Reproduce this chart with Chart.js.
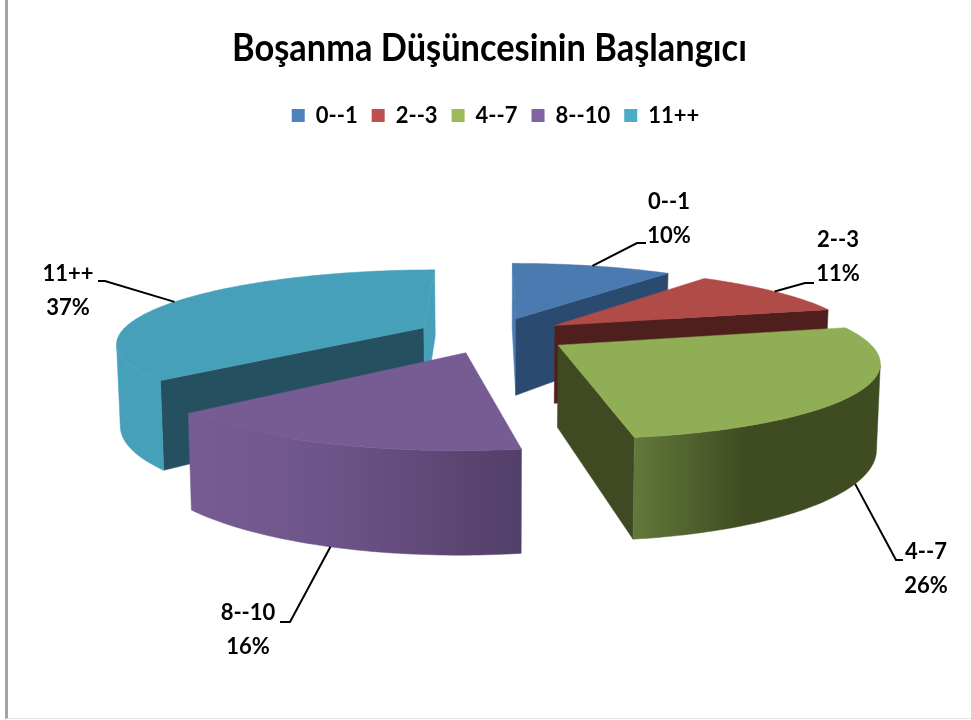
<!DOCTYPE html>
<html><head><meta charset="utf-8">
<style>
html,body{margin:0;padding:0;background:#fff;overflow:hidden}
#frame{position:absolute;left:5px;top:0;width:966px;height:719px;border-left:3px solid #a3a3a3;border-bottom:1px solid #e6e6e6;box-sizing:border-box}
#wrap{position:absolute;left:8px;top:0;width:963px;height:718px}
</style>
<script src="https://cdn.jsdelivr.net/npm/chart.js@4/dist/chart.umd.js"></script>
</head><body>
<div id="frame"></div>
<div id="wrap"><canvas id="c"></canvas></div>
<script>
const categories = ['0--1','2--3','4--7','8--10','11++'];
const values = [10.4,10.7,26.4,15.8,36.7];
const legendColors = ['#4F81BD','#C0504D','#9BBB59','#8064A2','#4BACC6'];
const topColors = ['#4A7AB0','#B04B48','#90AE55','#775C94','#46A0BA'];
const startWallColors = ['#4A7AB0','#4F1F1E','#3F4A22','#4A3A60','#25505F'];
const endWallColors = ['#2B4A70','#4F1F1E','#3F4A22','#4A3A60','#46A0BA'];
const rimStops = [
  [[0,'#2B4A70'],[1,'#2B4A70']],
  [[0,'#4F1F1E'],[1,'#4F1F1E']],
  [[0,'#63793A'],[0.45,'#3F4C22'],[1,'#3F4C22']],
  [[0,'#775C94'],[0.4,'#6E5589'],[1,'#523F68']],
  [[0,'#46A0BA'],[1,'#46A0BA']]
];
const paintOrder = [0,4,1,3,2];
const TITLE = 'Boşanma Düşüncesinin Başlangıcı';
const FONT = 'Lato, "Open Sans", sans-serif';
const TITLE_SQUEEZE = 0.905;
const LEGEND_SHIFT = [6,2];

// view of the pie plane: canvas position of the centre, axis scales, perspective, extrusion
const VIEW = {cx:484.5, cy:335, sx:305, sy:71.5, k:0.19, h:80, shrink:0.99};
// data-label layout: rim end (0 top / 1 bottom), elbow, elbow end, text centre, line centres
const labelLayout = [
  {rim:0, elbow:[629,243], end:[638,243], tx:661, y1:202, y2:236},
  {rim:0, elbow:[797,283], end:[806,283], tx:830, y1:240, y2:274},
  {rim:1, elbow:[888,560], end:[895,560], tx:918, y1:552, y2:586},
  {rim:1, elbow:[282,622], end:[272,622], tx:240, y1:613, y2:647},
  {rim:0, elbow:[97,281], end:[90,281], tx:60, y1:274, y2:308}
];

function project(u, v, bottom){
  const w = 1 - VIEW.k * v;
  let X = VIEW.cx + VIEW.sx * u / w;
  let Y = VIEW.cy + VIEW.sy * v / w;
  if (bottom){ X = VIEW.cx + (X - VIEW.cx) * VIEW.shrink; Y += VIEW.h / w; }
  return [X, Y];
}
function quadArea(a,b,c,d){
  const p=[a,b,c,d]; let s=0;
  for(let i=0;i<4;i++){const q=p[i],r=p[(i+1)%4]; s+=q[0]*r[1]-r[0]*q[1];}
  return s/2;
}
function poly(ctx, pts, fill){
  ctx.beginPath();
  pts.forEach((p,i)=> i?ctx.lineTo(p[0],p[1]):ctx.moveTo(p[0],p[1]));
  ctx.closePath();
  ctx.fillStyle=fill; ctx.fill();
  ctx.strokeStyle=fill; ctx.lineWidth=0.5; ctx.stroke();
}
function sliceGeometry(arc){
  const R = arc.outerRadius;
  const d = (arc.options.offset||0)/4/R;
  const mid = (arc.startAngle+arc.endAngle)/2;
  const ou = d*Math.cos(mid), ov = d*Math.sin(mid);
  const rim=[];
  const n = Math.max(4, Math.ceil((arc.endAngle-arc.startAngle)/(Math.PI/180)));
  for(let i=0;i<=n;i++){
    const t = arc.startAngle+(arc.endAngle-arc.startAngle)*i/n;
    rim.push([ou+Math.cos(t), ov+Math.sin(t)]);
  }
  return {tip:[ou,ov], rim, mid};
}
const pie3d = {
  id:'pie3d',
  afterLayout(chart){
    const tb = chart.titleBlock;
    if (tb && !tb._squeezed){
      const orig = tb.draw.bind(tb);
      tb.draw = function(){
        const ctx = chart.ctx, cx = tb.left + tb.width/2;
        ctx.save(); ctx.translate(cx,0); ctx.scale(TITLE_SQUEEZE,1); ctx.translate(-cx,0);
        orig(); ctx.restore();
      };
      tb._squeezed = true;
    }
    const lg = chart.legend;
    if (lg && !lg._shifted){
      const orig = lg.draw.bind(lg);
      lg.draw = function(){
        const ctx = chart.ctx;
        ctx.save(); ctx.translate(LEGEND_SHIFT[0],LEGEND_SHIFT[1]);
        orig(); ctx.restore();
      };
      lg._shifted = true;
    }
  },
  beforeDatasetDraw(chart, args){
    const ctx = chart.ctx, arcs = args.meta.data;
    paintOrder.forEach(i=>{
      const g = sliceGeometry(arcs[i]);
      const T = q=>project(q[0],q[1],false), B = q=>project(q[0],q[1],true);
      const start=g.rim[0], end=g.rim[g.rim.length-1];
      if(quadArea(T(g.tip),T(start),B(start),B(g.tip))<0)
        poly(ctx,[T(g.tip),T(start),B(start),B(g.tip)],startWallColors[i]);
      if(quadArea(T(end),T(g.tip),B(g.tip),B(end))<0)
        poly(ctx,[T(end),T(g.tip),B(g.tip),B(end)],endWallColors[i]);
      let first=-1,last=-1;
      for(let j=0;j<g.rim.length-1;j++){
        const a=g.rim[j],b=g.rim[j+1];
        if(quadArea(T(a),T(b),B(b),B(a))<0){ if(first<0) first=j; last=j+1; }
      }
      if(first>=0){
        const seg=g.rim.slice(first,last+1);
        const pts=seg.map(T).concat(seg.map(B).reverse());
        const xs=pts.map(p=>p[0]);
        const grad=ctx.createLinearGradient(Math.min(...xs),0,Math.max(...xs),0);
        rimStops[i].forEach(s=>grad.addColorStop(s[0],s[1]));
        poly(ctx,pts,grad);
      }
      poly(ctx,[T(g.tip)].concat(g.rim.map(T)),topColors[i]);
    });
    ctx.save();
    ctx.font='bold 22px '+FONT;
    ctx.textAlign='center'; ctx.textBaseline='middle';
    const total=values.reduce((a,b)=>a+b,0);
    arcs.forEach((arc,i)=>{
      const g=sliceGeometry(arc), L=labelLayout[i];
      const u=g.tip[0]+Math.cos(g.mid), v=g.tip[1]+Math.sin(g.mid);
      const s=project(u,v,L.rim===1);
      ctx.beginPath(); ctx.moveTo(s[0],s[1]); ctx.lineTo(L.elbow[0],L.elbow[1]); ctx.lineTo(L.end[0],L.end[1]);
      ctx.strokeStyle='#000'; ctx.lineWidth=2; ctx.stroke();
      ctx.fillStyle='#000';
      ctx.fillText(categories[i],L.tx,L.y1);
      ctx.fillText(Math.round(values[i]/total*100)+'%',L.tx,L.y2);
    });
    ctx.restore();
    return false;
  }
};
new Chart(document.getElementById('c'),{
  type:'pie',
  data:{labels:categories,datasets:[{data:values,backgroundColor:legendColors,borderWidth:0,offset:195}]},
  plugins:[pie3d],
  options:{
    responsive:true,maintainAspectRatio:false,animation:false,
    layout:{padding:{top:26,bottom:0,left:0,right:0}},
    plugins:{
      tooltip:{enabled:false},
      title:{display:true,text:TITLE,color:'#000',font:{family:FONT,size:38,weight:'bold'},padding:{top:0,bottom:17}},
      legend:{position:'top',labels:{boxWidth:13,boxHeight:13,padding:14,color:'#000',font:{family:FONT,size:22,weight:'bold'}}}
    }
  }
});
</script>
</body></html>
